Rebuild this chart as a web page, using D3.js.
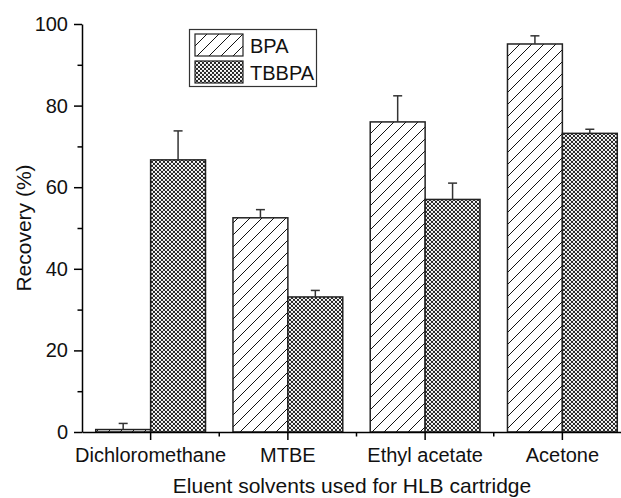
<!DOCTYPE html>
<html>
<head>
<meta charset="utf-8">
<script src="https://cdn.jsdelivr.net/npm/d3@7"></script>
<style>
  body { margin: 0; background: #fff; }
  svg { display: block; font-family: 'Liberation Sans', Arial, sans-serif; }
  .axis path, .axis line { stroke: #000; stroke-width: 1.5px; }
  .axis text { font-size: 20px; fill: #111; }
</style>
</head>
<body>
<div id="chart"></div>
<script>
// values
const categories = ['Dichloromethane', 'MTBE', 'Ethyl acetate', 'Acetone']
const seriesNames = ['BPA', 'TBBPA']
const bpa = [0.6, 52.5, 76.0, 95.1]
const bpaErr = [1.5, 2.0, 6.4, 2.0]
const tbbpa = [66.7, 33.1, 57.0, 73.2]
const tbbpaErr = [7.1, 1.6, 4.0, 1.0]
const yTicks = [0, 20, 40, 60, 80, 100]
const yMinorTicks = [10, 30, 50, 70, 90]

let width = 621
let height = 498
let margin = {top: 24, right: -10, bottom: 66, left: 82}

let x = d3.scaleBand()
          .domain(categories)
          .range([margin.left, width - margin.right])
          .paddingInner(0.2)
          .paddingOuter(0.1)
let xs = d3.scaleBand()
           .domain(seriesNames)
           .range([0, x.bandwidth()])
let y = d3.scaleLinear()
          .domain([0, 100])
          .range([height - margin.bottom, margin.top])

let rows = []
categories.forEach((c, i) => {
  rows.push({cat: c, key: 'BPA', value: bpa[i], err: bpaErr[i]})
  rows.push({cat: c, key: 'TBBPA', value: tbbpa[i], err: tbbpaErr[i]})
})

let svg = d3.select('#chart').append('svg')
    .attr('width', width)
    .attr('height', height)

// fill patterns
let defs = svg.append('defs')
let hatch = defs.append('pattern')
    .attr('id', 'hatch')
    .attr('patternUnits', 'userSpaceOnUse')
    .attr('width', 12)
    .attr('height', 12)
hatch.append('rect').attr('width', 12).attr('height', 12).attr('fill', '#fff')
hatch.append('path')
    .attr('d', 'M-3,3 L3,-3 M0,12 L12,0 M9,15 L15,9')
    .attr('stroke', '#111')
    .attr('stroke-width', 1)

let check = defs.append('pattern')
    .attr('id', 'check')
    .attr('patternUnits', 'userSpaceOnUse')
    .attr('width', 4)
    .attr('height', 4)
check.append('rect').attr('width', 4).attr('height', 4).attr('fill', '#111')
;[[0, 0], [4, 0], [0, 4], [4, 4], [2, 2]].forEach(p => {
  check.append('circle').attr('cx', p[0]).attr('cy', p[1]).attr('r', 1.15).attr('fill', '#fff')
})

let fills = {BPA: 'url(#hatch)', TBBPA: 'url(#check)'}

// bars
svg.append('g').attr('class', 'bars')
  .selectAll('rect')
  .data(rows)
  .enter().append('rect')
    .attr('x', d => x(d.cat) + xs(d.key))
    .attr('y', d => y(d.value))
    .attr('width', xs.bandwidth())
    .attr('height', d => y(0) - y(d.value))
    .attr('fill', d => fills[d.key])
    .attr('stroke', '#222')
    .attr('stroke-width', 1.5)

// error bars, upper half only
let errs = svg.append('g').attr('class', 'errors')
  .selectAll('g')
  .data(rows)
  .enter().append('g')
    .attr('stroke', '#333')
    .attr('stroke-width', 1.5)
errs.append('line')
    .attr('x1', d => x(d.cat) + xs(d.key) + xs.bandwidth() / 2)
    .attr('x2', d => x(d.cat) + xs(d.key) + xs.bandwidth() / 2)
    .attr('y1', d => y(d.value))
    .attr('y2', d => y(d.value + d.err))
errs.append('line')
    .attr('x1', d => x(d.cat) + xs(d.key) + xs.bandwidth() / 2 - 4.5)
    .attr('x2', d => x(d.cat) + xs(d.key) + xs.bandwidth() / 2 + 4.5)
    .attr('y1', d => y(d.value + d.err))
    .attr('y2', d => y(d.value + d.err))

// y axis
let yAxis = d3.axisLeft(y).tickValues(yTicks).tickSize(8).tickPadding(6).tickSizeOuter(0)
svg.append('g')
    .attr('class', 'y axis')
    .attr('transform', 'translate(' + margin.left + ',0)')
    .call(yAxis)
svg.append('g')
    .attr('class', 'y axis minor')
    .attr('transform', 'translate(' + margin.left + ',0)')
    .call(d3.axisLeft(y).tickValues(yMinorTicks).tickSize(4.5).tickFormat('').tickSizeOuter(0))
  .select('.domain').remove()

// x axis, major ticks at category centres, minor ticks between groups
let xAxis = d3.axisBottom(x).tickSize(8).tickPadding(8).tickSizeOuter(0)
svg.append('g')
    .attr('class', 'x axis')
    .attr('transform', 'translate(0,' + y(0) + ')')
    .call(xAxis)
let step = x.step()
let bounds = categories.slice(1).map(c => x(c) - step * x.paddingInner() / 2)
svg.append('g')
    .attr('class', 'x axis minor')
  .selectAll('line')
  .data(bounds)
  .enter().append('line')
    .attr('x1', d => d)
    .attr('x2', d => d)
    .attr('y1', y(0))
    .attr('y2', y(0) + 4.5)

// axis titles
svg.append('text')
    .attr('transform', 'translate(31,' + ((margin.top + y(0)) / 2) + ')rotate(-90)')
    .style('text-anchor', 'middle')
    .style('font-size', '21px')
    .attr('fill', '#111')
    .text('Recovery (%)')
svg.append('text')
    .attr('x', 352)
    .attr('y', 493)
    .style('text-anchor', 'middle')
    .style('font-size', '21px')
    .attr('fill', '#111')
    .text('Eluent solvents used for HLB cartridge')

// legend
let legend = svg.append('g').attr('class', 'legend')
legend.append('rect')
    .attr('x', 189.5)
    .attr('y', 29.5)
    .attr('width', 127)
    .attr('height', 57)
    .attr('fill', '#fff')
    .attr('stroke', '#333')
    .attr('stroke-width', 1.2)
let items = legend.selectAll('.item')
  .data(seriesNames)
  .enter().append('g')
    .attr('class', 'item')
    .attr('transform', (d, i) => 'translate(195,' + (34 + i * 27) + ')')
items.append('rect')
    .attr('width', 48)
    .attr('height', 22)
    .attr('fill', d => fills[d])
    .attr('stroke', '#222')
    .attr('stroke-width', 1.2)
items.append('text')
    .attr('x', 55)
    .attr('y', 19)
    .style('font-size', '20px')
    .attr('fill', '#111')
    .text(d => d)
</script>
</body>
</html>
